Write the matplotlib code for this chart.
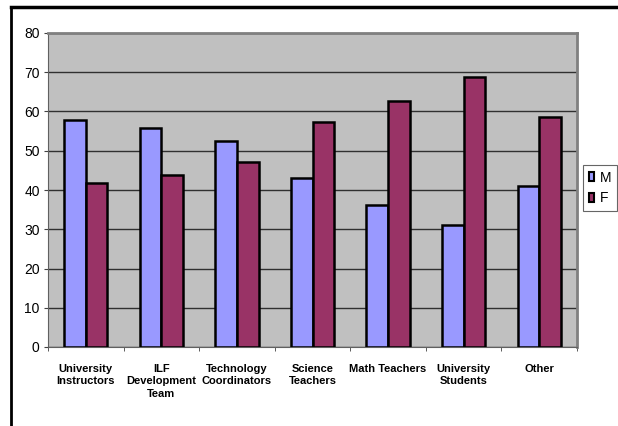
import numpy as np
import matplotlib.pyplot as plt
from matplotlib.lines import Line2D
from matplotlib.patches import Patch

# Share of male / female respondents per group (%)
groups = ['University\nInstructors', 'ILF\nDevelopment\nTeam', 'Technology\nCoordinators',
          'Science\nTeachers', 'Math Teachers', 'University\nStudents', 'Other']
male = [57.8, 55.9, 52.5, 43.1, 36.3, 31.0, 41.1]
female = [41.8, 43.7, 47.2, 57.3, 62.8, 68.9, 58.7]

plt.rcParams['font.family'] = ['Liberation Sans Narrow', 'Liberation Sans', 'DejaVu Sans']

fig = plt.figure(figsize=(6.18, 4.26), dpi=100)
ax = fig.add_axes([48 / 618, 1 - 347 / 426, 529 / 618, 314 / 426])

x = np.arange(len(groups))
w = 1 / 3.5    # excel style gap width 150%
ax.bar(x - w / 2, male, w, color='#9999FF', edgecolor='black', linewidth=1.8, label='M', zorder=3)
ax.bar(x + w / 2, female, w, color='#993366', edgecolor='black', linewidth=1.8, label='F', zorder=3)

ax.set_facecolor('#C0C0C0')
ax.set_xlim(-0.5, len(groups) - 0.5)
ax.set_ylim(0, 80)
ax.set_yticks(range(0, 81, 10))
ax.yaxis.grid(True, color='#303030', linewidth=1.0, zorder=1)
ax.tick_params(axis='y', labelsize=10, length=3, color='#404040', pad=3)

# category labels between boundary ticks
ax.set_xticks(x)
ax.set_xticklabels(groups, fontsize=8, fontweight='bold', linespacing=1.35)
ax.tick_params(axis='x', length=0, pad=12)
ax.set_xticks(np.arange(len(groups) + 1) - 0.5, minor=True)
ax.tick_params(axis='x', which='minor', length=3, color='#404040')

for side in ['top', 'right']:
    ax.spines[side].set_color('#808080')
    ax.spines[side].set_linewidth(2)
ax.spines['left'].set_color('#606060')
ax.spines['bottom'].set_color('#606060')

handles = [Patch(facecolor='#9999FF', edgecolor='black', linewidth=1.5),
           Patch(facecolor='#993366', edgecolor='black', linewidth=1.5)]
leg = fig.legend(handles, ['M', 'F'], loc='upper left',
                 bbox_to_anchor=(583 / 618, 1 - 165 / 426), fontsize=10,
                 frameon=True, fancybox=False, edgecolor='#404040',
                 handlelength=0.4, handleheight=0.55, handletextpad=0.4,
                 borderpad=0.4, labelspacing=0.5, borderaxespad=0)
leg.get_frame().set_linewidth(0.8)

# outer chart border
fig.add_artist(Line2D([11 / 618, 11 / 618], [0, 1 - 7 / 426], color='black', linewidth=2))
fig.add_artist(Line2D([11 / 618, 1], [1 - 7 / 426, 1 - 7 / 426], color='black', linewidth=2.5))

fig.savefig('out.png', dpi=100)
